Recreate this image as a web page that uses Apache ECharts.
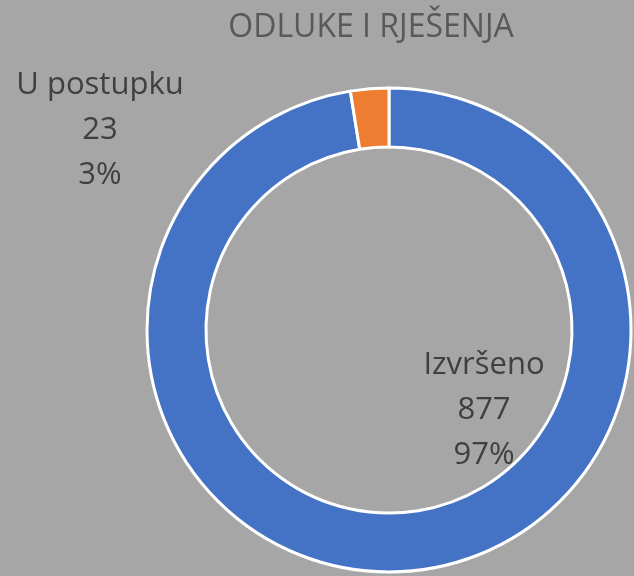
<!DOCTYPE html>
<html>
<head>
<meta charset="utf-8">
<script src="https://cdn.jsdelivr.net/npm/echarts@6/dist/echarts.min.js"></script>
<style>
  html, body { margin: 0; padding: 0; background: #a6a6a6; }
  #chart { width: 634px; height: 576px; }
</style>
</head>
<body>
<div id="chart"></div>
<script>
const categories = ["Izvršeno", "U postupku"];
const values = [877, 23];
const colors = ["#4472c4", "#ed7d31"];

// label anchor spots (centre of each text block)
const labelSpots = [[484, 410], [100, 130]];

const chart = echarts.init(document.getElementById("chart"));
chart.setOption({
  backgroundColor: "#a6a6a6",
  title: {
    text: "ODLUKE I RJEŠENJA",
    left: 366,
    top: 7,
    textAlign: "center",
    textStyle: {
      fontFamily: "Open Sans",
      fontSize: 32,
      fontWeight: "normal",
      color: "#595959"
    }
  },
  series: [
    {
      type: "pie",
      center: [389, 330],
      radius: [183, 242],
      startAngle: 90,
      clockwise: true,
      percentPrecision: 0,
      silent: true,
      itemStyle: { borderColor: "#ffffff", borderWidth: 3 },
      label: {
        show: true,
        position: "outside",
        formatter: "{b}\n{c}\n{d}%",
        fontFamily: "Open Sans",
        fontSize: 31,
        lineHeight: 45,
        color: "#404040",
        align: "center"
      },
      labelLine: { show: false },
      labelLayout: function (params) {
        const p = labelSpots[params.dataIndex];
        return { x: p[0], y: p[1], align: "center", verticalAlign: "middle" };
      },
      data: categories.map((name, i) => ({
        name: name,
        value: values[i],
        itemStyle: { color: colors[i] }
      }))
    }
  ]
});
</script>
</body>
</html>
